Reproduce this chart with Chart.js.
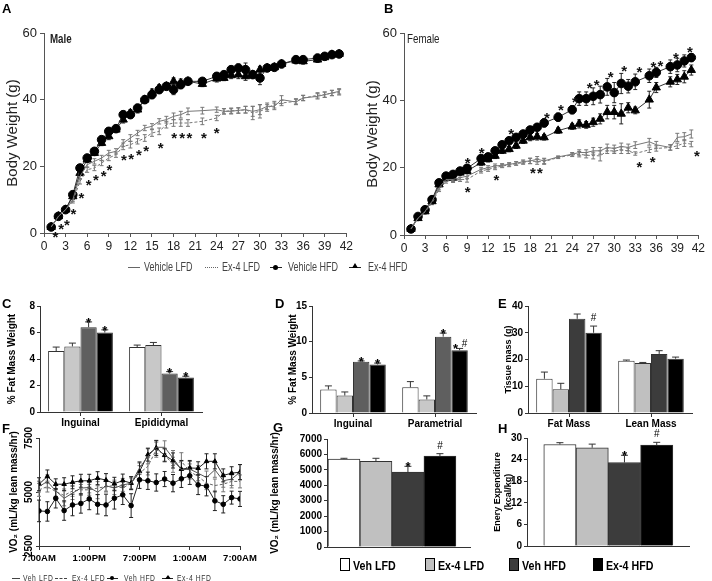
<!DOCTYPE html>
<html>
<head>
<meta charset="utf-8">
<script src="https://cdn.jsdelivr.net/npm/chart.js@4.4.1/dist/chart.umd.min.js"></script>
<style>
  body { margin: 0; background: #fff; }
  #fig { position: relative; width: 712px; height: 581px; overflow: hidden; font-family: 'Liberation Sans', Arial, sans-serif; }
  .pane { position: absolute; }
  .t { position: absolute; white-space: nowrap; line-height: 1; }
  .letter { font-weight: bold; font-size: 13px; }
  .sq { transform: scaleX(0.75); transform-origin: 0 50%; }
  .sq8 { transform: scaleX(0.82); transform-origin: 0 50%; }
  .ln { position: absolute; height: 0; }
  .dot { position: absolute; width: 5px; height: 5px; border-radius: 50%; background: #000; }
  .tri { position: absolute; width: 0; height: 0; border-left: 3px solid transparent; border-right: 3px solid transparent; border-bottom: 5px solid #000; }
  .box { position: absolute; width: 10px; height: 13px; border: 1px solid #000; box-sizing: border-box; }
</style>
</head>
<body>
<div id="fig">
  <div class="pane" style="left:0;top:0;width:355px;height:262px"><canvas id="cA"></canvas></div>
  <div class="pane" style="left:352px;top:0;width:355px;height:262px"><canvas id="cB"></canvas></div>
  <div class="pane" style="left:0;top:290px;width:215px;height:140px"><canvas id="cC"></canvas></div>
  <div class="pane" style="left:270px;top:290px;width:215px;height:140px"><canvas id="cD"></canvas></div>
  <div class="pane" style="left:490px;top:290px;width:215px;height:140px"><canvas id="cE"></canvas></div>
  <div class="pane" style="left:0;top:420px;width:265px;height:150px"><canvas id="cF"></canvas></div>
  <div class="pane" style="left:255px;top:420px;width:225px;height:135px"><canvas id="cG"></canvas></div>
  <div class="pane" style="left:470px;top:420px;width:230px;height:135px"><canvas id="cH"></canvas></div>

  <div class="t letter" style="left:2px;top:2px">A</div>
  <div class="t letter" style="left:384px;top:2px">B</div>
  <div class="t letter" style="left:2px;top:297px">C</div>
  <div class="t letter" style="left:275px;top:297px">D</div>
  <div class="t letter" style="left:498px;top:297px">E</div>
  <div class="t letter" style="left:2px;top:422px">F</div>
  <div class="t letter" style="left:273px;top:421px">G</div>
  <div class="t letter" style="left:498px;top:422px">H</div>

  <div class="t sq" style="left:50px;top:32px;font-size:13px;font-weight:bold;color:#222">Male</div>
  <div class="t sq" style="left:407px;top:32px;font-size:13px;color:#222">Female</div>

  <!-- legend under A/B -->
  <div class="ln" style="left:128px;top:267px;width:12px;border-top:1px solid #666"></div>
  <div class="t sq" style="left:144px;top:261px;font-size:12px;color:#444">Vehicle LFD</div>
  <div class="ln" style="left:205px;top:267px;width:13px;border-top:1px dotted #666"></div>
  <div class="t sq" style="left:222px;top:261px;font-size:12px;color:#444">Ex-4 LFD</div>
  <div class="ln" style="left:270px;top:267px;width:12px;border-top:1px solid #222"></div>
  <div class="dot" style="left:273px;top:265px"></div>
  <div class="t sq" style="left:288px;top:261px;font-size:12px;color:#444">Vehicle HFD</div>
  <div class="ln" style="left:349px;top:267px;width:12px;border-top:1px solid #222"></div>
  <div class="tri" style="left:352px;top:263px"></div>
  <div class="t sq" style="left:368px;top:261px;font-size:12px;color:#444">Ex-4 HFD</div>

  <!-- legend under F -->
  <div class="ln" style="left:12px;top:578px;width:8px;border-top:1px solid #444"></div>
  <div class="t sq" style="left:23px;top:574px;font-size:9px;color:#333;letter-spacing:0.8px">Veh LFD</div>
  <div class="ln" style="left:55px;top:578px;width:12px;border-top:1px dashed #444"></div>
  <div class="t sq" style="left:72px;top:574px;font-size:9px;color:#333;letter-spacing:0.8px">Ex-4 LFD</div>
  <div class="ln" style="left:107px;top:578px;width:11px;border-top:1px solid #222"></div>
  <div class="dot" style="left:110px;top:576px;width:4px;height:4px"></div>
  <div class="t sq" style="left:124px;top:574px;font-size:9px;color:#333;letter-spacing:0.8px">Veh HFD</div>
  <div class="ln" style="left:162px;top:578px;width:11px;border-top:1px solid #222"></div>
  <div class="tri" style="left:165px;top:575px;border-bottom-width:4px"></div>
  <div class="t sq" style="left:177px;top:574px;font-size:9px;color:#333;letter-spacing:0.8px">Ex-4 HFD</div>

  <!-- legend under G/H -->
  <div class="box" style="left:340px;top:558px;background:#fff"></div>
  <div class="t sq8" style="left:353px;top:559px;font-size:13px;font-weight:bold">Veh LFD</div>
  <div class="box" style="left:425px;top:558px;background:#c0c0c0"></div>
  <div class="t sq8" style="left:438px;top:559px;font-size:13px;font-weight:bold">Ex-4 LFD</div>
  <div class="box" style="left:509px;top:558px;background:#3c3c3c"></div>
  <div class="t sq8" style="left:522px;top:559px;font-size:13px;font-weight:bold">Veh HFD</div>
  <div class="box" style="left:593px;top:558px;background:#000"></div>
  <div class="t sq8" style="left:606px;top:559px;font-size:13px;font-weight:bold">Ex-4 HFD</div>
</div>

<script>
// ---- A / B : body weight by week ----
const weeksM = [1,2,3,4,5,6,7,8,9,10,11,12,13,14,15,16,17,18,19,20,22,24,25,26,27,28,29,30,31,32,33,35,36,38,39,40,41];
const maleVehLFD = [1.8,5,7,10,17,20.5,21.5,22.5,24,24.5,27,28.5,30,31.5,32,33.5,34,35,35.5,36.5,36.7,37,36.5,36.5,36.8,37,36.5,37,38,38,40,39.3,40.5,41,41.5,42,42.5];
const maleEx4LFD = [1.8,5,7,9.5,15.5,19,19.5,21,22.5,23.5,26,26.5,27.5,28.5,30,30.5,32.5,33,33,33,33.5,34.5,36.5,36.7,36.7,37,36,36.5,37.5,38.5,39,39.5,40.5,41.3,41.5,42,42.2];
const maleVehHFD = [1.8,5,7,11.5,19.5,22.5,24.5,28,30.5,31.3,35.5,35.5,37.5,40,41.5,43,44,43,44.5,45.5,45.5,47,47.5,49,49.5,49,47.5,46.5,49.5,49.7,50.7,52,52,52.5,53,53.5,53.7];
const maleEx4HFD = [1.8,5,7,11,18,22,24,27,29,31,34,36,37,40,42,43.5,44,45.5,45,45.5,44.7,46.3,46.5,47.3,47.5,47,47.5,49,49.5,49.7,50.7,51.7,51.5,52,52.7,53.5,53.7];
const maleVehLFDErr = [0.3,0.3,0.3,0.5,0.8,0.8,0.8,0.8,0.8,0.8,1,1,0.8,0.8,0.8,0.8,1,1,1,1,1,0.8,0.8,0.8,0.8,1,1.5,1.5,1,1,1.2,0.8,0.8,0.8,0.8,0.8,0.8];
const maleEx4LFDErr = [0.3,0.3,0.3,0.5,0.8,0.8,0.8,0.8,0.8,0.8,1,1,0.8,1,1,1,1,1,1,1,1,0.8,0.8,0.8,0.8,1,2,2,1,1,0.8,0.8,0.8,0.8,0.8,0.8,0.8];
const maleVehHFDErr = [0.5,0.5,0.5,0.8,0.8,0.8,0.8,0.8,1,0.8,1,1,1,1,1.2,1,1,1.5,1.2,0.8,0.8,1,0.8,1,1.2,2,1,2,0.8,0.8,0.8,0.8,0.8,0.8,0.8,0.8,0.8];
const maleEx4HFDErr = [0.5,0.5,0.5,0.8,0.8,0.8,0.8,0.8,1,0.8,1,1,1,1,1.2,1,1,1,1.2,0.8,0.8,1,0.8,1,1.2,1.2,1,1,0.8,0.8,0.8,0.8,0.8,0.8,0.8,0.8,0.8];
const starsMaleX = [1.6,2.4,3.2,4.1,5.2,6.2,7.2,8.3,9.1,11.1,12.1,13.2,14.2,16.2,18.1,19.2,20.2,22.2,24];
const starsMaleY = [0,2.5,3.5,7,11.7,15.7,17.2,18.2,20,23,23.5,24.5,25.7,26.8,29.8,29.6,29.6,29.8,31.2];

const weeksF = [1,2,3,4,5,6,7,8,9,11,12,13,14,15,16,17,18,19,20,22,24,25,26,27,28,29,30,31,32,33,35,36,38,39,40,41];
const femVehLFD = [1.8,5,7,10,14,16.5,16.5,17,17.5,19.5,20,20.5,20.7,21,21.3,21.8,22,22.5,22,23.2,24,24.5,24.5,25,25,26,25.7,26.3,26,26.7,27.7,26.8,26,29,29.2,30];
const femEx4LFD = [1.8,5,6.8,9.5,13.5,16,16.2,16.5,16.5,19,19.5,20,20.5,20.8,21.2,21.5,22,21.8,21.8,23,23.8,24,23.7,23.6,23.5,25,25,25.2,25,24.2,25.3,25.7,26,26.5,27.3,27];
const femVehHFD = [1.8,5.5,7.5,10.5,15.5,17.5,18,19,19.8,22.7,23.2,25,26.8,28,29,30,31.2,32,33.3,35,37.2,40.5,40.5,41.2,41.7,44,42.3,45,44.2,45.5,47.3,48.3,50,50.5,51.7,52.7];
const femEx4HFD = [1.8,5,7,10,15,17,17,18.5,19,21.5,22.5,23.5,25,25.5,26.5,28,29,29.2,29,31,32.2,33,32.7,33.5,34.5,36.5,36.5,36,37.8,37,40.2,43.8,45.5,46.2,47,49];
const femVehLFDErr = [0.3,0.3,0.3,0.5,0.6,0.6,0.6,0.6,0.8,0.6,0.6,0.6,0.5,0.5,0.5,0.5,0.8,0.8,0.8,0.3,0.5,0.8,0.8,1,1,1,1,1,1,1,1,1,0.8,1.2,1.2,1.2];
const femEx4LFDErr = [0.3,0.3,0.3,0.5,0.6,0.6,0.6,0.6,0.8,0.6,0.6,0.6,0.5,0.5,0.5,0.5,0.8,0.8,0.8,0.3,0.5,0.8,0.8,1,1.5,0.8,0.8,1,0.8,0.5,0.8,0.8,0.8,0.8,1,0.8];
const femVehHFDErr = [0.3,0.5,0.5,0.5,0.5,0.5,0.5,0.5,1,1,0.8,0.8,0.8,0.8,0.8,0.8,1,1,1.2,1.2,1.2,2,2,2.5,2.5,2.5,3,3,2,2.3,2,1.5,2,2,1.8,1.2];
const femEx4HFDErr = [0.3,0.5,0.5,0.5,0.5,0.5,0.5,0.5,0.8,0.8,0.8,0.8,0.8,0.8,0.8,0.8,1,1,0.8,0.8,0.8,1.2,1,1.2,1.5,2,2,3,1.5,1,2.5,1.5,1.5,1.5,1.8,1.5];
const starsFemX = [9.1,9.1,11.1,13.2,15.3,18.4,19.4,20.4,22.4,24.4,26.5,27.5,29.5,31.4,33.6,33.6,35.5,35.6,36.6,38.8,40.8,41.8];
const starsFemY = [14,22.5,25.5,17.5,31.2,19.7,19.5,36,38.2,40.7,45,45.7,48,50,49.7,21.3,23,51.2,51.5,53.7,55.5,24.7];

// ---- C / D / E : fat pads and tissue mass ----
const groups = ['Veh LFD', 'Ex-4 LFD', 'Veh HFD', 'Ex-4 HFD'];
const catsC = ['Inguinal', 'Epididymal'];
const valsC = [[4.6, 4.9], [4.95, 5.05], [6.4, 2.9], [6.0, 2.6]];
const errsC = [[0.3, 0.15], [0.25, 0.2], [0.4, 0.15], [0.2, 0.1]];
const sigC = [['', ''], ['', ''], ['*', '*'], ['*', '*']];
const catsD = ['Inguinal', 'Parametrial'];
const valsD = [[3.3, 3.6], [2.45, 1.9], [7.2, 10.7], [6.8, 8.8]];
const errsD = [[0.5, 0.8], [0.5, 0.5], [0.1, 0.5], [0.2, 0.25]];
const sigD = [['', ''], ['', ''], ['*', '*'], ['*', '* #']];
const catsE = ['Fat Mass', 'Lean Mass'];
const valsE = [[12.8, 19.5], [8.9, 18.7], [35.2, 22.1], [30, 20.3]];
const errsE = [[2.5, 0.3], [2.2, 0.2], [1.8, 1.2], [2.5, 0.6]];
const sigE = [['', ''], ['', ''], ['', ''], ['#', '']];

// ---- F : VO2 over 24 h ----
const hoursF = [0,1,2,3,4,5,6,7,8,9,10,11,12,13,14,15,16,17,18,19,20,21,22,23,24];
const timeTicks = ['7:00AM', '1:00PM', '7:00PM', '1:00AM', '7:00AM'];
const vo2VehLFD = [5250,5490,5050,4710,4950,5180,5210,4990,5290,5180,5330,5400,6110,6650,7070,7070,6570,6030,6060,5870,5670,6030,5520,5600,5920];
const vo2Ex4LFD = [5100,5250,5020,4840,5050,5100,5100,5180,5250,5300,5180,5410,5870,6190,6960,6730,6260,6420,5950,5720,5410,5300,5360,5490,5490];
const vo2VehHFD = [4125,4100,4710,4140,4400,4470,4680,4430,4400,4710,4870,4370,5565,5520,5440,5600,5410,5610,5750,5330,5270,4590,4430,4740,4680];
const vo2Ex4HFD = [5360,5720,5360,5360,5450,5520,5520,5640,5550,5380,5530,5410,5950,6730,7040,6700,6460,6060,6110,6100,6420,6420,5770,5870,5920];
const errVehLFD = [250,300,250,350,300,300,250,300,250,300,300,250,300,350,300,300,350,400,350,350,300,350,300,300,350];
const errEx4LFD = [300,250,300,300,250,250,250,300,250,250,300,300,350,400,350,300,350,400,350,350,300,300,350,300,300];
const errVehHFD = [500,450,450,450,500,450,500,450,500,500,450,550,400,400,400,350,400,400,400,450,450,450,400,300,350];
const errEx4HFD = [300,300,250,300,300,300,300,300,300,300,300,300,400,300,350,300,350,400,350,300,350,350,300,300,350];

// ---- G / H : mean VO2 and energy expenditure ----
const vo2Mean = [5700, 5550, 4850, 5900];
const vo2Err = [50, 200, 380, 150];
const vo2Sig = ['', '', '*', '#'];
const eeMean = [28.2, 27.3, 23.2, 28.0];
const eeErr = [0.5, 1.0, 2.0, 0.8];
const eeSig = ['', '', '*', '#'];

const SANS = "'Liberation Sans', Arial, sans-serif";
Chart.defaults.font.family = SANS;
Chart.defaults.color = '#000';
Chart.defaults.animation = false;
Chart.defaults.plugins.legend.display = false;
Chart.defaults.plugins.tooltip.enabled = false;

const fitTo = size => s => { if (s.isHorizontal()) s.height = size; else s.width = size; };

// error bars (bars: up only; lines: both ways) and significance marks
const extras = {
  id: 'extras',
  beforeDatasetsDraw(chart, args, o) {
    if (!o.lineErrs) return;
    const ctx = chart.ctx, ys = chart.scales.y;
    ctx.save();
    ctx.lineWidth = 1;
    o.lineErrs.forEach((errs, i) => {
      const meta = chart.getDatasetMeta(i);
      ctx.strokeStyle = i < 2 ? '#777' : '#222';
      meta.data.forEach((el, j) => {
        const v = chart.data.datasets[i].data[j].y;
        const lo = ys.getPixelForValue(v - errs[j]), hi = ys.getPixelForValue(v + errs[j]);
        ctx.beginPath();
        ctx.moveTo(el.x, lo); ctx.lineTo(el.x, hi);
        ctx.moveTo(el.x - 2, lo); ctx.lineTo(el.x + 2, lo);
        ctx.moveTo(el.x - 2, hi); ctx.lineTo(el.x + 2, hi);
        ctx.stroke();
      });
    });
    ctx.restore();
  },
  afterDatasetsDraw(chart, args, o) {
    const ctx = chart.ctx, xs = chart.scales.x, ys = chart.scales.y;
    ctx.save();
    ctx.textAlign = 'center';
    if (o.barErrs) {
      chart.data.datasets.forEach((ds, i) => {
        const meta = chart.getDatasetMeta(i);
        meta.data.forEach((el, j) => {
          const raw = ds.data[j];
          const v = typeof raw === 'object' ? raw.y : raw;
          const top = ys.getPixelForValue(v + o.barErrs[i][j]);
          ctx.strokeStyle = '#333';
          ctx.lineWidth = 1;
          ctx.beginPath();
          ctx.moveTo(el.x, el.y); ctx.lineTo(el.x, top);
          ctx.moveTo(el.x - 3.5, top); ctx.lineTo(el.x + 3.5, top);
          ctx.stroke();
          const parts = (o.marks[i][j] || '').split(' ').filter(Boolean);
          parts.forEach((m, k) => {
            const pair = parts.length > 1;
            const dx = pair ? (k === 0 ? -4 : 5) : 0;
            ctx.fillStyle = '#000';
            ctx.font = (m === '#' ? '10px ' : 'bold 13px ') + SANS;
            ctx.fillText(m, el.x + dx, top + (m === '#' ? (pair ? -1 : -5) : 5));
          });
        });
      });
    }
    if (o.starsX) {
      ctx.fillStyle = '#111';
      ctx.font = 'bold 15px ' + SANS;
      o.starsX.forEach((x, k) => {
        ctx.fillText('*', xs.getPixelForValue(x), ys.getPixelForValue(o.starsY[k]) + 9);
      });
    }
    ctx.restore();
  },
  afterDraw(chart, args, o) {
    if (!o.rotYTicks) return;
    const ctx = chart.ctx, ys = chart.scales.y;
    ctx.save();
    ctx.fillStyle = '#000';
    ctx.font = 'bold 10px ' + SANS;
    ctx.textAlign = 'center';
    ctx.textBaseline = 'middle';
    ys.ticks.forEach(t => {
      ctx.save();
      ctx.translate(ys.right - 10, ys.getPixelForValue(t.value));
      ctx.rotate(-Math.PI / 2);
      ctx.fillText(String(t.value), 0, 0);
      ctx.restore();
    });
    ctx.restore();
  }
};

function weightChart(id, weeks, series, errs, sx, sy, pad) {
  const pts = arr => arr.map((y, i) => ({ x: weeks[i], y }));
  new Chart(document.getElementById(id), {
    type: 'line',
    data: {
      datasets: [
        { label: 'Vehicle LFD', data: pts(series[0]), borderColor: '#777', borderWidth: 1, pointRadius: 0 },
        { label: 'Ex-4 LFD', data: pts(series[1]), borderColor: '#777', borderWidth: 1, borderDash: [3, 2], pointRadius: 0 },
        { label: 'Vehicle HFD', data: pts(series[2]), borderColor: '#333', borderWidth: 1, pointStyle: 'circle', pointRadius: 4.3, pointBackgroundColor: '#000', pointBorderColor: '#000' },
        { label: 'Ex-4 HFD', data: pts(series[3]), borderColor: '#333', borderWidth: 1, pointStyle: 'triangle', pointRadius: 4.8, pointBackgroundColor: '#000', pointBorderColor: '#000' }
      ]
    },
    options: {
      responsive: true, maintainAspectRatio: false,
      layout: { padding: pad },
      scales: {
        x: {
          type: 'linear', min: 0, max: 42,
          ticks: { stepSize: 3, font: { size: 12 }, color: '#222', padding: 2, maxRotation: 0 },
          grid: { drawOnChartArea: false, tickLength: 4, color: '#555' },
          border: { color: '#555' },
          afterFit: fitTo(pad.xh)
        },
        y: {
          min: 0, max: 60,
          ticks: { stepSize: 20, font: { size: 13 }, color: '#222', padding: 3 },
          grid: { drawOnChartArea: false, tickLength: 4, color: '#555' },
          border: { color: '#555' },
          title: { display: true, text: 'Body Weight (g)', font: { size: 15 }, color: '#222', padding: { top: 4, bottom: 0 } },
          afterFit: fitTo(44)
        }
      },
      plugins: { extras: { lineErrs: errs, starsX: sx, starsY: sy } }
    },
    plugins: [extras]
  });
}
weightChart('cA', weeksM, [maleVehLFD, maleEx4LFD, maleVehHFD, maleEx4HFD],
  [maleVehLFDErr, maleEx4LFDErr, maleVehHFDErr, maleEx4HFDErr], starsMaleX, starsMaleY,
  { top: 33, right: 8, left: 0, bottom: 0, xh: 29 });
weightChart('cB', weeksF, [femVehLFD, femEx4LFD, femVehHFD, femEx4HFD],
  [femVehLFDErr, femEx4LFDErr, femVehHFDErr, femEx4HFDErr], starsFemX, starsFemY,
  { top: 33, right: 7, left: 8, bottom: 0, xh: 27 });

function fatChart(id, cats, vals, errs, sig, cols, yMax, yStep, yTitle, titleSize, yw, titlePad, pad) {
  new Chart(document.getElementById(id), {
    type: 'bar',
    data: {
      labels: cats,
      datasets: groups.map((g, i) => ({
        label: g, data: vals[i], backgroundColor: cols[i], borderColor: '#333', borderWidth: 1,
        categoryPercentage: 0.8, barPercentage: 1
      }))
    },
    options: {
      responsive: true, maintainAspectRatio: false,
      layout: { padding: { top: pad.top, right: pad.right, left: 0, bottom: 0 } },
      scales: {
        x: {
          ticks: { font: { size: 10, weight: 'bold' }, padding: 1 },
          grid: { drawOnChartArea: false, offset: false, tickLength: 4, color: '#333' },
          border: { color: '#333' },
          afterFit: fitTo(pad.xh)
        },
        y: {
          min: 0, max: yMax,
          ticks: { stepSize: yStep, font: { size: 10, weight: 'bold' }, padding: 2 },
          grid: { drawOnChartArea: false, tickLength: 3, color: '#333' },
          border: { color: '#333' },
          title: { display: true, text: yTitle, font: { size: titleSize, weight: 'bold' }, padding: { top: titlePad, bottom: 0 } },
          afterFit: fitTo(yw)
        }
      },
      plugins: { extras: { barErrs: errs, marks: sig } }
    },
    plugins: [extras]
  });
}
const colsCD = ['#ffffff', '#c8c8c8', '#5f5f5f', '#000000'];
const colsE = ['#ffffff', '#c0c0c0', '#3c3c3c', '#000000'];
fatChart('cC', catsC, valsC, errsC, sigC, colsCD, 8, 2, '% Fat Mass Weight', 10, 40, 6, { top: 16, right: 13, xh: 18 });
fatChart('cD', catsD, valsD, errsD, sigD, colsCD, 15, 5, '% Fat Mass Weight', 10, 42, 17, { top: 16, right: 9, xh: 17 });
fatChart('cE', catsE, valsE, errsE, sigE, colsE, 40, 10, 'Tissue mass (g)', 9, 38, 13, { top: 16, right: 13, xh: 17 });

// F
{
  const pts = arr => arr.map((y, i) => ({ x: hoursF[i], y }));
  new Chart(document.getElementById('cF'), {
    type: 'line',
    data: {
      datasets: [
        { label: 'Veh LFD', data: pts(vo2VehLFD), borderColor: '#555', borderWidth: 1, pointRadius: 0 },
        { label: 'Ex-4 LFD', data: pts(vo2Ex4LFD), borderColor: '#666', borderWidth: 1, borderDash: [3, 2], pointRadius: 0 },
        { label: 'Veh HFD', data: pts(vo2VehHFD), borderColor: '#222', borderWidth: 1, pointStyle: 'circle', pointRadius: 2.3, pointBackgroundColor: '#000', pointBorderColor: '#000' },
        { label: 'Ex-4 HFD', data: pts(vo2Ex4HFD), borderColor: '#222', borderWidth: 1, pointStyle: 'triangle', pointRadius: 2.6, pointBackgroundColor: '#000', pointBorderColor: '#000' }
      ]
    },
    options: {
      responsive: true, maintainAspectRatio: false,
      layout: { padding: { top: 18, right: 25, left: 0, bottom: 0 } },
      scales: {
        x: {
          type: 'linear', min: 0, max: 24,
          ticks: { stepSize: 6, font: { size: 9.5, weight: 'bold' }, padding: 3, maxRotation: 0,
                   callback: v => timeTicks[v / 6] },
          grid: { drawOnChartArea: false, tickLength: 4, color: '#333' },
          border: { color: '#333' },
          afterFit: fitTo(24)
        },
        y: {
          min: 2500, max: 7500,
          ticks: { stepSize: 2500, display: false },
          grid: { drawOnChartArea: false, tickLength: 3, color: '#333' },
          border: { color: '#333' },
          title: { display: true, text: 'VO₂ (mL/kg lean mass/hr)', font: { size: 10, weight: 'bold' }, padding: { top: 8, bottom: 0 } },
          afterFit: fitTo(39)
        }
      },
      plugins: { extras: { lineErrs: [errVehLFD, errEx4LFD, errVehHFD, errEx4HFD], rotYTicks: true } }
    },
    plugins: [extras]
  });
}

function meanChart(id, vals, errs, sig, yMax, yStep, yTitle, titleSize, yw, titlePad, xMin, xMax, pad) {
  new Chart(document.getElementById(id), {
    type: 'bar',
    data: {
      datasets: [{
        data: vals.map((y, i) => ({ x: i, y })),
        backgroundColor: colsE, borderColor: '#333', borderWidth: 1,
        categoryPercentage: 1, barPercentage: 1
      }]
    },
    options: {
      responsive: true, maintainAspectRatio: false,
      layout: { padding: { top: pad.top, right: pad.right, left: 0, bottom: 0 } },
      scales: {
        x: {
          type: 'linear', min: xMin, max: xMax, offset: false,
          ticks: { display: false },
          grid: { display: false },
          border: { color: '#333' },
          afterFit: fitTo(pad.xh)
        },
        y: {
          min: 0, max: yMax,
          ticks: { stepSize: yStep, font: { size: 10, weight: 'bold' }, padding: 2, callback: v => String(v) },
          grid: { drawOnChartArea: false, tickLength: 3, color: '#333' },
          border: { color: '#333' },
          title: { display: true, text: yTitle, font: { size: titleSize, weight: 'bold' }, padding: { top: titlePad, bottom: 0 } },
          afterFit: fitTo(yw)
        }
      },
      plugins: { extras: { barErrs: [errs], marks: [sig] } }
    },
    plugins: [extras]
  });
}
meanChart('cG', vo2Mean, vo2Err, vo2Sig, 7000, 1000, 'VO₂ (mL/kg lean mass/hr)', 10, 72, 14, -0.53, 3.94, { top: 19, right: 10, xh: 8 });
meanChart('cH', eeMean, eeErr, eeSig, 30, 6, ['Enery Expenditure', '(kcal/kg)'], 9, 57, 22, -1.02, 4.0, { top: 18, right: 11, xh: 9 });
</script>
</body>
</html>
